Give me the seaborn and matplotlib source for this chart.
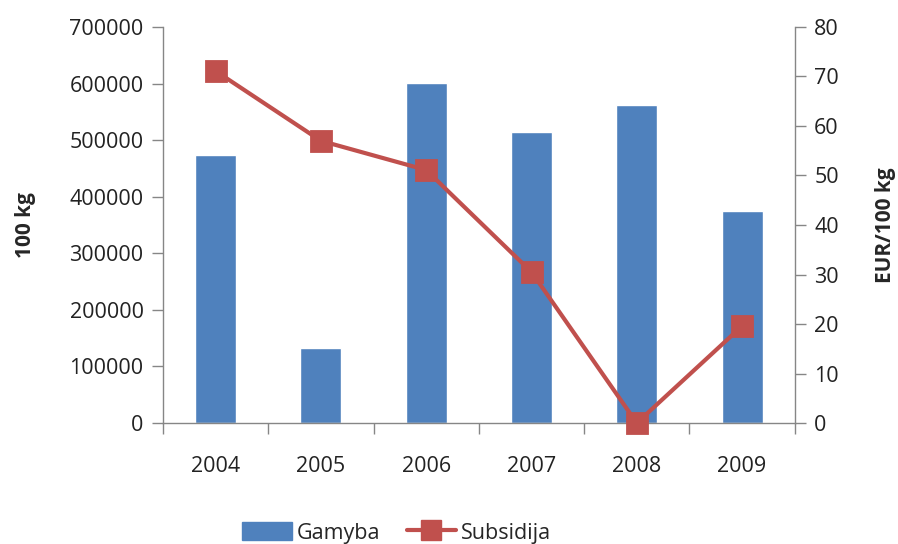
import matplotlib
matplotlib.use("Agg")
import matplotlib.pyplot as plt
import seaborn as sns
import pandas as pd
from matplotlib.ticker import MultipleLocator, FixedLocator
from matplotlib.lines import Line2D
from matplotlib.patches import Patch

years = ["2004", "2005", "2006", "2007", "2008", "2009"]
gamyba = [474000, 133000, 601000, 514000, 562000, 375000]
subsidija = [71.1, 57.0, 51.1, 30.5, 0.0, 19.6]

bar_color = "#4F81BD"
line_color = "#C0504D"
axis_color = "#868686"

sns.set_theme(style="white")
plt.rcParams["font.family"] = ["Open Sans", "DejaVu Sans"]

df = pd.DataFrame({"year": years, "Gamyba": gamyba, "Subsidija": subsidija})

fig = plt.figure(figsize=(8.98, 5.44), dpi=100)
ax = fig.add_axes([0.1815, 0.2224, 0.885 - 0.1815, 0.9504 - 0.2224])

sns.barplot(data=df, x="year", y="Gamyba", color=bar_color, width=0.39,
            saturation=1, ax=ax)
ax.set_ylim(0, 700000)
ax.set_xlim(-0.5, 5.5)
ax.yaxis.set_major_locator(MultipleLocator(100000))

ax2 = ax.twinx()
sns.pointplot(data=df, x="year", y="Subsidija", color=line_color, markers="s",
              linestyles="-", ax=ax2, errorbar=None)
for ln in ax2.lines:
    ln.set_linewidth(3)
    ln.set_markersize(14)
    ln.set_clip_on(False)
ax2.set_ylim(0, 80)
ax2.set_xlim(-0.5, 5.5)
ax2.yaxis.set_major_locator(MultipleLocator(10))

for a in (ax, ax2):
    for s in a.spines.values():
        s.set_visible(False)
    a.grid(False)

ax.spines["left"].set_visible(True)
ax.spines["bottom"].set_visible(True)
ax2.spines["right"].set_visible(True)
for s in (ax.spines["left"], ax.spines["bottom"], ax2.spines["right"]):
    s.set_color(axis_color)
    s.set_linewidth(1)

ax.set_xlabel("")
ax.set_ylabel("100 kg", fontsize=15, fontweight="bold", labelpad=24)
ax2.set_xlabel("")
ax2.set_ylabel("EUR/100 kg", fontsize=15, fontweight="bold", labelpad=26)

ax.tick_params(axis="y", which="major", direction="out", length=8, width=1,
               color=axis_color, labelsize=15.5, labelcolor="#222222", pad=6, left=True)
ax2.tick_params(axis="y", which="major", direction="out", length=8, width=1,
                color=axis_color, labelsize=15.5, labelcolor="#222222", pad=6, right=True)
ax.xaxis.set_minor_locator(FixedLocator([i - 0.5 for i in range(len(years) + 1)]))
ax.tick_params(axis="x", which="major", length=0, labelsize=15.5,
               labelcolor="#222222", pad=24)
ax.tick_params(axis="x", which="minor", direction="out", length=8, width=1,
               color=axis_color, bottom=True)
ax2.tick_params(axis="x", which="both", length=0, labelbottom=False)

handles = [Patch(facecolor=bar_color, edgecolor=bar_color),
           Line2D([0], [0], color=line_color, lw=3, marker="s", markersize=14)]
fig.legend(handles, ["Gamyba", "Subsidija"], loc="lower center",
           bbox_to_anchor=(0.442, -0.035), ncol=2, frameon=False, fontsize=15.5,
           handlelength=2.3, handleheight=0.9, columnspacing=1.2, handletextpad=0.25)

fig.savefig("out.png", dpi=100)
